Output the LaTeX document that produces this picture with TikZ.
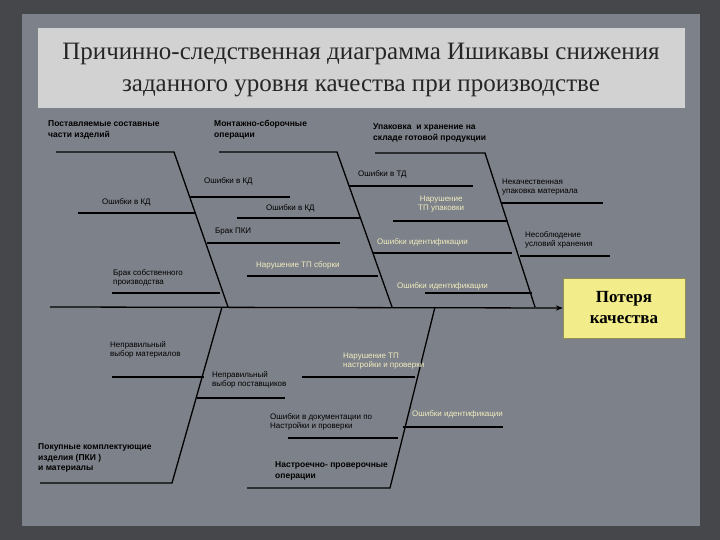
\documentclass[tikz,border=0pt]{standalone}
\usepackage{fontspec}
\setmainfont{Liberation Serif}
\newfontfamily\lab{Liberation Sans}
\usetikzlibrary{arrows.meta}
\definecolor{panel}{HTML}{7D8189}
\definecolor{frame}{HTML}{45474B}
\definecolor{band}{HTML}{D2D2D2}
\definecolor{cream}{HTML}{F2EDC0}
\definecolor{boxy}{HTML}{F3EC8A}
\tikzset{
 bone/.style={line width=1.3pt,black},
 lbl/.style={anchor=west,font=\lab\fontsize{8}{9.5}\selectfont,align=left,inner sep=0pt,text=black},
 clbl/.style={lbl,text=cream},
 hdr/.style={anchor=west,font=\lab\bfseries\fontsize{8.5}{10.5}\selectfont,align=left,inner sep=0pt,text=black},
}
\begin{document}
\begin{tikzpicture}[x=1pt,y=-1pt]
\useasboundingbox (0,0) rectangle (720,540);
\fill[frame] (0,0) rectangle (720,540);
\fill[panel] (22,14) rectangle (700,526);
\fill[band] (38,28) rectangle (685,108);
\node[font=\fontsize{25}{32}\selectfont,text=black!85,align=center] (title) at (361,70) {Причинно-следственная диаграмма Ишикавы снижения\\заданного уровня качества при производстве};
% box
\node[draw=boxy!60!black,fill=boxy,minimum width=122pt,minimum height=60pt,font=\bfseries\fontsize{17}{21}\selectfont,align=center] (eff) at (624,308) {Потеря\\качества};
% spine
\coordinate (s0) at (50,307);
\draw[bone,-{Stealth[length=7pt]}] (s0) -- (eff.west);
% top bones
\coordinate (b1t) at (174,152); \coordinate (b1b) at (228,307);
\coordinate (b2t) at (337,152); \coordinate (b2b) at (392,307);
\coordinate (b3t) at (485,153); \coordinate (b3b) at (535,307);
\draw[bone] (56,152) -- (b1t) -- (b1b);
\draw[bone] (219,152) -- (b2t) -- (b2b);
\draw[bone] (375,153) -- (b3t) -- (b3b);
\node[hdr] (h1) at (48,130) {Поставляемые составные\\ части изделий};
\node[hdr] (h2) at (214,130) {Монтажно-сборочные\\операции};
\node[hdr] (h3) at (373,133) {Упаковка\ \ и хранение на\\складе готовой продукции};
% bottom bones
\coordinate (b4b) at (172,483); \coordinate (b5b) at (390,488);
\draw[bone] (222,307) -- (b4b) -- (40,483);
\draw[bone] (435,307) -- (b5b) -- (247,488);
\node[hdr] (h4) at (38,458) {Покупные комплектующие\\изделия (ПКИ )\\и материалы};
\node[hdr] (h5) at (275,471) {Настроечно- проверочные\\ операции};
% sub causes
\draw[bone] (78,213) -- (196,213); \node[lbl] (l1) at (102,202) {Ошибки в КД};
\draw[bone] (112,293) -- (220,293); \node[lbl] (l2) at (113,278) {Брак собственного\\ производства};
\draw[bone] (190,197) -- (290,197); \node[lbl] (l3) at (204,181) {Ошибки в КД};
\draw[bone] (207,243) -- (340,243); \node[lbl] (l4) at (215,232) {Брак ПКИ};
\draw[bone] (237,218) -- (360,218); \node[lbl] (l5) at (266,208) {Ошибки в КД};
\draw[bone] (247,276) -- (378,276); \node[clbl] (l6) at (256,265) {Нарушение ТП сборки};
\draw[bone] (349,186) -- (473,186); \node[lbl] (l7) at (358,174) {Ошибки в ТД};
\draw[bone] (393,221) -- (507,221); \node[clbl,align=center] (l8) at (418,204) {Нарушение\\ТП упаковки};
\draw[bone] (373,253) -- (512,253); \node[clbl] (l9) at (377,242) {Ошибки идентификации};
\draw[bone] (425,293) -- (532,293); \node[clbl] (l10) at (397,286) {Ошибки идентификации};
\draw[bone] (502,203) -- (603,203); \node[lbl] (l11) at (502,187) {Некачественная\\упаковка материала};
\draw[bone] (520,256) -- (610,256); \node[lbl] (l12) at (525,240) {Несоблюдение\\условий хранения};
\draw[bone] (112,377) -- (204,377); \node[lbl] (l13) at (110,350) {Неправильный\\выбор материалов};
\draw[bone] (197,398) -- (285,398); \node[lbl] (l14) at (212,380) {Неправильный\\выбор поставщиков};
\draw[bone] (302,377) -- (415,377); \node[clbl] (l15) at (343,361) {Нарушение ТП\\ настройки и проверки};
\draw[bone] (288,438) -- (398,438); \node[lbl] (l16) at (270,422) {Ошибки в документации по\\Настройки и проверки};
\draw[bone] (403,427) -- (503,427); \node[clbl] (l17) at (412,414) {Ошибки идентификации};
\end{tikzpicture}
\end{document}
